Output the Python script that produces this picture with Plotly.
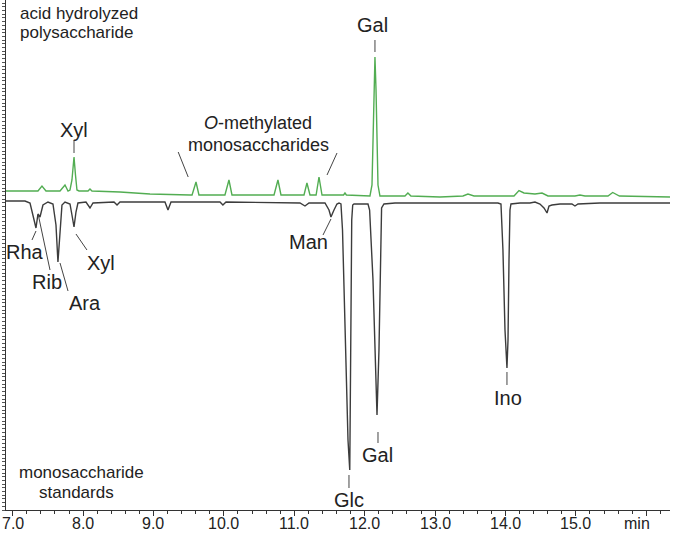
import plotly.graph_objects as go

# ---- data (retention time in min, detector signal, arbitrary units) ----
green_t = [6.905, 7.246, 7.359, 7.416, 7.473, 7.672, 7.743, 7.786, 7.814, 7.842, 7.871, 7.892, 7.913,
           7.942, 8.070, 8.098, 8.126, 8.524, 8.950, 9.519, 9.548, 9.604, 9.646, 10.015, 10.072, 10.115,
           10.712, 10.768, 10.811, 11.138, 11.180, 11.223, 11.310, 11.351, 11.394, 11.700, 11.720, 11.740,
           12.075, 12.104, 12.132, 12.146, 12.161, 12.189, 12.217, 12.572, 12.614, 12.657, 13.069, 13.396,
           13.467, 13.553, 14.121, 14.192, 14.263, 14.419, 14.519, 14.604, 14.987, 15.058, 15.129, 15.456,
           15.523, 15.619, 16.337]
green_y = [319, 319, 319, 324, 319, 319, 325, 319, 320, 330, 353, 335, 320,
           319, 319, 321, 319, 318, 316, 315, 315, 328, 315, 315, 330, 315,
           315, 330, 315, 315, 327, 315, 315, 333, 315, 315, 317, 315,
           314, 325, 410, 453, 420, 325, 314, 314, 317, 314, 313, 314,
           316, 314, 314, 319.5, 317, 316, 317, 314, 314, 315, 314, 314,
           317.5, 314, 313]

black_t = [6.905, 7.175, 7.246, 7.288, 7.331, 7.359, 7.388, 7.430, 7.501, 7.572, 7.615, 7.643, 7.672,
           7.700, 7.743, 7.814, 7.842, 7.871, 7.899, 7.927, 8.041, 8.098, 8.141, 8.439, 8.482, 8.524,
           9.163, 9.206, 9.249, 9.945, 9.986, 10.030, 11.081, 11.152, 11.209, 11.436, 11.493, 11.521,
           11.564, 11.606, 11.635, 11.663, 11.685, 11.730, 11.763, 11.788, 11.802, 11.816, 11.830,
           11.848, 12.047, 12.070, 12.118, 12.161, 12.175, 12.203, 12.225, 12.240, 12.274, 12.431,
           13.893, 13.936, 13.964, 13.993, 14.021, 14.036, 14.050, 14.064, 14.078, 14.206, 14.348,
           14.419, 14.490, 14.547, 14.590, 14.618, 14.660, 14.774, 14.944, 14.987, 15.030, 15.342, 16.337]
black_y = [309, 309, 307, 295, 282, 296, 293, 305, 308, 306, 285, 248, 280,
           305, 308, 306, 295, 283, 298, 307, 308, 302, 307, 308, 305, 308,
           308, 300, 308, 308, 305, 308, 307, 304, 307, 307, 300, 293,
           300, 306, 307, 306, 280, 150, 70, 40, 150, 290, 305,
           306, 306, 300, 230, 120, 95, 160, 250, 302, 306, 307,
           307, 306, 260, 180, 142, 170, 250, 300, 306, 307, 307,
           308, 306, 302, 297, 304, 305, 306, 306, 304, 306, 307, 307]

x_tick_vals = [7, 8, 9, 10, 11, 12, 13, 14, 15, 16]
x_tick_text = ["7.0", "8.0", "9.0", "10.0", "11.0", "12.0", "13.0", "14.0", "15.0", ""]
x_unit_label = "min"

# peak labels: text, x (min), y (signal), font size
peak_labels = [
    ("Gal", 12.104, 485, 20), ("Xyl", 7.871, 380, 20),
    ("<i>O</i>-methylated", 10.488, 387, 18), ("monosaccharides", 10.488, 365, 18),
    ("Rha", 7.170, 258, 20), ("Rib", 7.487, 228, 20), ("Ara", 8.027, 207, 20),
    ("Xyl", 8.256, 247, 20), ("Man", 11.195, 268, 20), ("Glc", 11.777, 10, 20),
    ("Gal", 12.189, 55, 20), ("Ino", 14.036, 112, 20),
]
# leader lines: x0, y0, x1, y1
leaders = [
    (12.146, 470, 12.146, 458), (7.871, 370, 7.871, 357),
    (9.351, 358, 9.493, 333), (11.607, 357, 11.465, 335),
    (7.274, 270, 7.331, 279), (7.530, 240, 7.364, 295), (7.786, 219, 7.672, 247),
    (8.055, 260, 7.899, 276), (11.408, 275, 11.521, 291),
    (11.777, 35, 11.777, 22), (12.189, 78, 12.189, 67), (14.021, 138, 14.021, 125),
]
corner_labels = [
    ("acid hydrolyzed", 7.075, 497), ("polysaccharide", 7.075, 478),
    ("monosaccharide", 7.061, 38), ("standards", 7.342, 18),
]

FONT = "Arial, 'Liberation Sans', sans-serif"
TXT = "#222222"
TICK_LABEL_Y = -13 / 510  # paper units, just below the x-axis line

fig = go.Figure()
fig.add_trace(go.Scatter(x=black_t, y=black_y, mode="lines",
                         line=dict(color="#3c3c3c", width=1.4), hoverinfo="skip"))
fig.add_trace(go.Scatter(x=green_t, y=green_y, mode="lines",
                         line=dict(color="#52ad52", width=1.4), hoverinfo="skip"))

annotations = []
for text, x, y, size in peak_labels:
    annotations.append(dict(x=x, y=y, text=text, showarrow=False, xanchor="center", yanchor="middle",
                            font=dict(family=FONT, size=size, color=TXT)))
for text, x, y in corner_labels:
    annotations.append(dict(x=x, y=y, text=text, showarrow=False, xanchor="left", yanchor="middle",
                            font=dict(family=FONT, size=17, color=TXT)))
for v, t in zip(x_tick_vals, x_tick_text):
    if t:
        annotations.append(dict(x=v, y=TICK_LABEL_Y, xref="x", yref="paper", text=t, showarrow=False,
                                xanchor="center", yanchor="middle",
                                font=dict(family=FONT, size=16, color=TXT)))
annotations.append(dict(x=15.87, y=TICK_LABEL_Y, xref="x", yref="paper", text=x_unit_label,
                        showarrow=False, xanchor="center", yanchor="middle",
                        font=dict(family=FONT, size=16, color=TXT)))

shapes = [dict(type="line", x0=a, y0=b, x1=c, y1=d, xref="x", yref="y",
               line=dict(color="#444444", width=1)) for a, b, c, d in leaders]

fig.update_layout(
    width=680, height=534,
    margin=dict(l=6, r=10, t=0, b=24),
    paper_bgcolor="white", plot_bgcolor="white",
    showlegend=False,
    annotations=annotations,
    shapes=shapes,
    xaxis=dict(range=[6.905, 16.337], tickmode="array", tickvals=x_tick_vals, showticklabels=False,
               ticks="outside", ticklen=5, tickwidth=1, tickcolor="#333333",
               minor=dict(tickmode="linear", tick0=7, dtick=0.2, ticks="outside", ticklen=3,
                          tickcolor="#333333"),
               showline=True, linecolor="#333333", linewidth=1, showgrid=False, zeroline=False),
    yaxis=dict(range=[0, 510], showticklabels=False, ticks="outside", ticklen=3, tickwidth=1,
               tickcolor="#555555", tickmode="linear", tick0=0, dtick=3.7,
               showline=True, linecolor="#333333", linewidth=1, showgrid=False, zeroline=False),
)

fig.write_html("out.html", config={"displayModeBar": False},
               post_script="document.body.style.margin='0';")
